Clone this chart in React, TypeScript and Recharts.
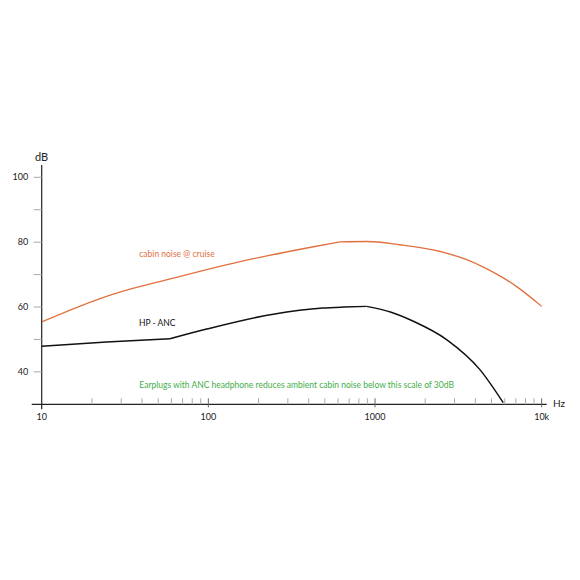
import React from 'react';
import { LineChart, Line, XAxis, YAxis, ReferenceLine } from 'recharts';

// Cabin noise @ cruise (Hz, dB)
const cabinRiseFreq = [10, 24.5, 61.7, 155, 390, 617];
const cabinRiseDb = [55.4, 63.3, 68.9, 74.0, 78.2, 80.1];
const cabinFallFreq = [617, 900, 1410, 2230, 3550, 4470, 5610, 7080, 10000];
const cabinFallDb = [80.1, 80.2, 79.2, 77.6, 74.6, 72.3, 69.6, 66.3, 60.2];

// HP - ANC (Hz, dB)
const ancFlatFreq = [10, 24.5, 58.8];
const ancFlatDb = [47.9, 49.2, 50.2];
const ancRiseFreq = [58.8, 97.7, 245, 486, 650, 890];
const ancRiseDb = [50.2, 53.2, 57.8, 59.7, 60.0, 60.2];
const ancFallFreq = [890, 1250, 1700, 2700, 4260, 5880];
const ancFallDb = [60.2, 58.4, 55.6, 49.9, 40.7, 30.5];

// Axis ticks
const xTicks = [
  10, 20, 30, 40, 50, 60, 70, 80, 90,
  100, 200, 300, 400, 500, 600, 700, 800, 900,
  1000, 2000, 3000, 4000, 5000, 6000, 7000, 8000, 9000, 10000,
];
const xTickLabels: Record<number, string> = { 10: '10', 100: '100', 1000: '1000', 10000: '10k' };
const yTicks = [40, 50, 60, 70, 80, 90, 100];
const yTickLabels: Record<number, string> = { 40: '40', 60: '60', 80: '80', 100: '100' };

const xDomain: [number, number] = [10, 10720];
const yDomain: [number, number] = [30, 103.8];

const FONT = 'Lato, "Open Sans", sans-serif';
const ORANGE = '#e2703f';
const GREEN = '#3fae49';

const toPoints = (fs: number[], vs: number[]) => fs.map((f, i) => ({ f, v: vs[i] }));

const cabinRise = toPoints(cabinRiseFreq, cabinRiseDb);
const cabinFall = toPoints(cabinFallFreq, cabinFallDb);
const ancFlat = toPoints(ancFlatFreq, ancFlatDb);
const ancRise = toPoints(ancRiseFreq, ancRiseDb);
const ancFall = toPoints(ancFallFreq, ancFallDb);

const XTick = (props: any) => {
  const { x, y, payload } = props;
  const v = payload.value as number;
  const label = xTickLabels[v];
  const major = label !== undefined;
  return (
    <g>
      {v !== 10 && (
        <line x1={x} x2={x} y1={y - 6} y2={major ? y + 3 : y} stroke={major ? '#666' : '#aaa'} strokeWidth={1} />
      )}
      {label && (
        <text x={x} y={y + 15.7} textAnchor="middle" fontSize={9} fontFamily={FONT} fill="#222">
          {label}
        </text>
      )}
    </g>
  );
};

const YTick = (props: any) => {
  const { x, y, payload } = props;
  const v = payload.value as number;
  const label = yTickLabels[v];
  return (
    <g>
      <line x1={x - 8} x2={x} y1={y} y2={y} stroke="#aaa" strokeWidth={1} />
      {label && (
        <text x={x - 13.5} y={y + 3} textAnchor="end" fontSize={9} fontFamily={FONT} fill="#222">
          {label}
        </text>
      )}
    </g>
  );
};

export default function App() {
  return (
    <LineChart
      width={564}
      height={564}
      margin={{ top: 157, right: 25.3, bottom: 137.7, left: 0 }}
    >
      <XAxis
        type="number"
        dataKey="f"
        scale="log"
        domain={xDomain}
        allowDataOverflow
        ticks={xTicks}
        interval={0}
        tick={<XTick />}
        tickLine={false}
        axisLine={false}
        tickSize={0}
        tickMargin={0}
        height={30}
      />
      <YAxis
        type="number"
        dataKey="v"
        domain={yDomain}
        allowDataOverflow
        ticks={yTicks}
        interval={0}
        tick={<YTick />}
        tickLine={false}
        axisLine={false}
        tickSize={0}
        tickMargin={0}
        width={33.7}
      />
      <ReferenceLine
        segment={[{ x: 8.71, y: 30 }, { x: 10720, y: 30 }]}
        ifOverflow="visible"
        stroke="#222"
        strokeWidth={1.2}
      />
      <ReferenceLine
        segment={[{ x: 10, y: 28.5 }, { x: 10, y: 103.8 }]}
        ifOverflow="visible"
        stroke="#222"
        strokeWidth={1.2}
      />
      <Line data={cabinRise} dataKey="v" type="monotone" stroke={ORANGE} strokeWidth={1.3} dot={false} isAnimationActive={false} />
      <Line data={cabinFall} dataKey="v" type="monotone" stroke={ORANGE} strokeWidth={1.3} dot={false} isAnimationActive={false} />
      <Line data={ancFlat} dataKey="v" type="linear" stroke="#111" strokeWidth={1.5} dot={false} isAnimationActive={false} />
      <Line data={ancRise} dataKey="v" type="monotone" stroke="#111" strokeWidth={1.5} dot={false} isAnimationActive={false} />
      <Line data={ancFall} dataKey="v" type="monotone" stroke="#111" strokeWidth={1.5} dot={false} isAnimationActive={false} />
      <text x={27} y={153} fontSize={11} fontFamily={FONT} fill="#222">dB</text>
      <text x={545} y={399} fontSize={10} fontFamily={FONT} fill="#222">Hz</text>
      <text x={131.3} y={249} fontSize={8.5} fontFamily={FONT} fill={ORANGE}>cabin noise @ cruise</text>
      <text x={131} y={317.7} fontSize={8.5} fontFamily={FONT} fill="#111">HP - ANC</text>
      <text x={131.3} y={379.5} fontSize={8.5} fontFamily={FONT} fill={GREEN}>
        Earplugs with ANC headphone reduces ambient cabin noise below this scale of 30dB
      </text>
    </LineChart>
  );
}
